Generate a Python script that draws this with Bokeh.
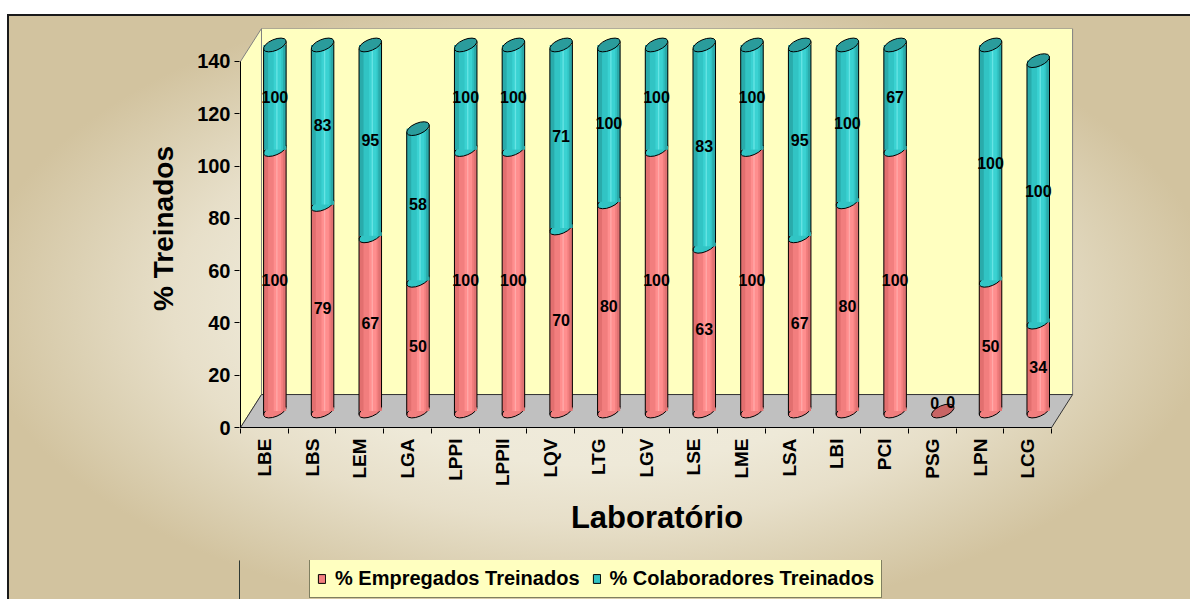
import math
from bokeh.plotting import figure
from bokeh.layouts import column
from bokeh.models import Range1d, FixedTicker, Legend, LegendItem, ColumnDataSource
from bokeh.core.properties import value
from bokeh.embed import file_html
from bokeh.resources import INLINE

# ---------------- data ----------------
labs = ["LBE", "LBS", "LEM", "LGA", "LPPI", "LPPII", "LQV", "LTG", "LGV", "LSE",
        "LME", "LSA", "LBI", "PCI", "PSG", "LPN", "LCG"]
emp = [100, 79, 67, 50, 100, 100, 70, 80, 100, 63, 100, 67, 80, 100, 0, 50, 34]
col = [100, 83, 95, 58, 100, 100, 71, 100, 100, 83, 100, 95, 100, 67, 0, 100, 100]
y_ticks = [0, 20, 40, 60, 80, 100, 120, 140]
series_names = ["% Empregados Treinados", "% Colaboradores Treinados"]

# ---------------- style / geometry ----------------
FONT = "Liberation Sans"
YMAX = 140
DX, DY = 0.44, 12.6       # depth of the 3D box (categories, value units)
MX, MY = DX / 2, DY / 2   # cylinders sit at mid depth
BW = 0.472                # cylinder width in categories
CAP_W, CAP_H, CAP_A = 24, 11, 0.4
EDGE = 1.38               # vertical shift of tilted cap ends (value units)

PINK, PINK_CAP = "#F27E7E", "#C86464"
TEAL, TEAL_CAP = "#31C4C4", "#2A9C9C"
pink_stripes = [(0.0, 1.0, PINK), (0.0, 0.2, "#E26F6F"), (0.45, 0.78, "#FF8E8E"),
                (0.56, 0.62, "#FFA9A9"), (0.86, 1.0, "#E07272")]
teal_stripes = [(0.0, 1.0, TEAL), (0.0, 0.2, "#29ABAB"), (0.45, 0.78, "#3AD2D2"),
                (0.56, 0.62, "#66E4E4"), (0.86, 1.0, "#2AAAAA")]

W = 1190
H_TOP = 560
H_LEG = 39
FL, FW = 239, 835          # frame left / width
FR = W - FL - FW

n = len(labs)
cx = [i + 0.5 + MX for i in range(n)]
emp_top = [min(e, YMAX) for e in emp]
tot_top = [min(e + c, YMAX) for e, c in zip(emp, col)]

GRAD = "#F2EEE0 0%, #EEE9D8 50%, #E7DFC9 68%, #DCD1B4 84%, #D2C39F 100%"

bg_top = ("linear-gradient(#ffffff,#ffffff) 0 0/100% 14px no-repeat, "
          "linear-gradient(#ffffff,#ffffff) 0 0/7px 100% no-repeat, "
          "linear-gradient(#1a1a1a,#1a1a1a) 0 14px/100% 2px no-repeat, "
          "linear-gradient(#1a1a1a,#1a1a1a) 7px 14px/2px 100% no-repeat, "
          "radial-gradient(620px 320px at 595px 305px, " + GRAD + ")")
bg_leg = ("linear-gradient(#ffffff,#ffffff) 0 0/7px 100% no-repeat, "
          "linear-gradient(#1a1a1a,#1a1a1a) 7px 0/2px 100% no-repeat, "
          "radial-gradient(620px 320px at 595px " + str(305 - H_TOP) + "px, " + GRAD + ")")

p = figure(frame_width=FW, frame_height=400,
           x_range=Range1d(-0.021, 17.48), y_range=Range1d(-0.38, 152.6),
           output_backend="svg", toolbar_location=None,
           min_border_left=FL, min_border_right=FR, min_border_top=28,
           min_border_bottom=H_TOP - 28 - 400, border_fill_color=None,
           background_fill_color=None, outline_line_color=None,
           styles={"background": bg_top})
p.xgrid.visible = False
p.ygrid.visible = False

# ---------------- 3D box: walls and floor ----------------
p.patch([DX, n + DX, n + DX, DX], [DY, DY, YMAX + DY, YMAX + DY],
        fill_color="#FFFFC0", line_color="#808080", line_width=1)
p.patch([0, DX, DX, 0], [0, DY, YMAX + DY, YMAX],
        fill_color="#FFFFC0", line_color="#808080", line_width=1)
p.patch([0, n, n + DX, DX], [0, 0, DY, DY],
        fill_color="#C0C0C0", line_color="#333333", line_width=1)
p.segment(x0=[0], y0=[0], x1=[0], y1=[YMAX], line_color="black", line_width=1)
p.segment(x0=[0], y0=[0], x1=[n], y1=[0], line_color="black", line_width=1)

# ---------------- cylinders ----------------
def cylinder(idx, bottoms, tops, stripes, fill):
    if not idx:
        return
    xs = [cx[i] for i in idx]
    p.ellipse(x=xs, y=bottoms, width=CAP_W, height=CAP_H, angle=CAP_A,
              width_units="screen", height_units="screen",
              fill_color=fill, line_color="black", line_width=1)
    for x0, x1, c in stripes:
        p.vbar(x=[x + (x0 + x1) / 2 * BW - BW / 2 for x in xs], width=(x1 - x0) * BW,
               bottom=bottoms, top=tops, fill_color=c, line_color=None)
    p.segment(x0=[x - BW / 2 for x in xs], y0=[b - EDGE for b in bottoms],
              x1=[x - BW / 2 for x in xs], y1=[t - EDGE for t in tops],
              line_color="black", line_width=1)
    p.segment(x0=[x + BW / 2 for x in xs], y0=[b + EDGE for b in bottoms],
              x1=[x + BW / 2 for x in xs], y1=[t + EDGE for t in tops],
              line_color="black", line_width=1)

pi_ = [i for i in range(n) if emp[i] > 0]
cylinder(pi_, [MY for i in pi_], [emp_top[i] + MY for i in pi_], pink_stripes, PINK)
ti = [i for i in range(n) if col[i] > 0 and emp_top[i] < YMAX]
cylinder(ti, [emp_top[i] + MY for i in ti], [tot_top[i] + MY for i in ti], teal_stripes, TEAL)

p.ellipse(x=cx, y=[t + MY for t in tot_top], width=CAP_W, height=CAP_H, angle=CAP_A,
          width_units="screen", height_units="screen",
          fill_color=[TEAL_CAP if c > 0 else PINK_CAP for c in col],
          line_color="black", line_width=1)

# ---------------- data labels ----------------
zero = [e + c == 0 for e, c in zip(emp, col)]
lab_src = ColumnDataSource(dict(
    x=cx + cx,
    y=[e / 2 + MY for e in emp_top] + [(a + b) / 2 + MY for a, b in zip(emp_top, tot_top)],
    t=[str(v) for v in emp] + [str(v) for v in col],
    xo=[-8 if z else 0 for z in zero] + [8 if z else 0 for z in zero],
    yo=[-8 if z else 0 for z in zero] + [-9 if z else 0 for z in zero],
))
p.text(x="x", y="y", text="t", x_offset="xo", y_offset="yo", source=lab_src,
       text_font=value(FONT), text_font_style="bold", text_font_size="16px",
       text_color="black", text_align="center", text_baseline="middle")

# ---------------- axes ----------------
yax = p.yaxis[0]
yax.ticker = FixedTicker(ticks=y_ticks)
yax.axis_line_color = None
yax.major_tick_out = 5
yax.major_tick_in = 0
yax.major_tick_line_color = "black"
yax.minor_tick_line_color = None
yax.major_label_standoff = 4
yax.major_label_text_font = FONT
yax.major_label_text_font_style = "bold"
yax.major_label_text_font_size = "20px"
yax.major_label_text_color = "black"
yax.axis_label = "% Treinados"
yax.axis_label_text_font = FONT
yax.axis_label_text_font_style = "bold"
yax.axis_label_text_font_size = "28px"
yax.axis_label_text_color = "black"
yax.axis_label_standoff = 15

xax = p.xaxis[0]
xax.ticker = FixedTicker(ticks=[i + 0.5 for i in range(n)], minor_ticks=list(range(n + 1)))
xax.major_label_overrides = {i + 0.5: lab for i, lab in enumerate(labs)}
xax.axis_line_color = None
xax.major_tick_line_color = None
xax.major_tick_out = 5
xax.major_tick_in = 0
xax.minor_tick_out = 5
xax.minor_tick_in = 0
xax.minor_tick_line_color = "black"
xax.major_label_orientation = math.pi / 2
xax.major_label_standoff = 5
xax.major_label_text_font = FONT
xax.major_label_text_font_style = "bold"
xax.major_label_text_font_size = "19px"
xax.major_label_text_color = "black"
xax.axis_label = "Laboratório"
xax.axis_label_text_font = FONT
xax.axis_label_text_font_style = "bold"
xax.axis_label_text_font_size = "31px"
xax.axis_label_text_color = "black"
xax.axis_label_standoff = 11

# ---------------- legend strip (second figure below) ----------------
q = figure(frame_width=FW, frame_height=H_LEG, x_range=Range1d(0, 1), y_range=Range1d(0, 1),
           x_axis_type=None, y_axis_type=None,
           output_backend="svg", toolbar_location=None,
           min_border_left=FL, min_border_right=FR, min_border_top=0, min_border_bottom=0,
           border_fill_color=None, background_fill_color=None, outline_line_color=None,
           styles={"background": bg_leg})
q.grid.visible = False
for fig in (p, q):
    if "frame_align" in fig.properties():
        fig.frame_align = False
r_pink = q.vbar(x=[-10], width=1, bottom=[0], top=[1], fill_color=PINK, line_color="black")
r_teal = q.vbar(x=[-10], width=1, bottom=[0], top=[1], fill_color=TEAL, line_color="black")
legend = Legend(items=[LegendItem(label=series_names[0], renderers=[r_pink]),
                       LegendItem(label=series_names[1], renderers=[r_teal])],
                orientation="horizontal", location=(70, 1),
                background_fill_color="#FFFFC0", background_fill_alpha=1,
                border_line_color="black", border_line_width=1,
                label_text_font=FONT, label_text_font_style="bold",
                label_text_font_size="20px", label_text_color="black",
                glyph_width=9, glyph_height=11,
                label_standoff=9, spacing=12, padding=7, margin=0)
q.add_layout(legend)

layout = column(p, q, spacing=0)
open("out.html", "w").write(file_html(layout, INLINE))
